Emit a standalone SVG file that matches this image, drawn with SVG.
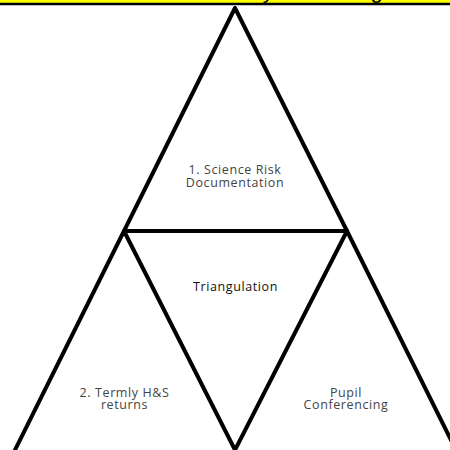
<svg xmlns="http://www.w3.org/2000/svg" width="450" height="450" viewBox="0 0 450 450">
<style>
.ln{stroke:#000;stroke-width:4;fill:none;stroke-linecap:round;stroke-linejoin:round}
.lbl{font-family:"Open Sans","Liberation Sans",sans-serif;font-size:12.5px;letter-spacing:0.6px;fill:#444;text-anchor:middle}
.ctr{font-family:"Open Sans","Liberation Sans",sans-serif;font-size:12.5px;letter-spacing:0.6px;fill:#111;text-anchor:middle}
.ttl{font-family:"Liberation Sans",Arial,sans-serif;font-size:22px;fill:#000}
</style>
<rect width="450" height="450" fill="#fff"/>
<g id="banner">
<rect x="-5" y="-40" width="460" height="44" fill="#ffff00" stroke="#000" stroke-width="2.5"/>
<text class="ttl" x="121" y="-2">Health &amp; Safety Monitoring</text>
</g>
<g id="connectors">
<polyline class="ln" points="235,8 124,231 347,231 235,8"/>
<line class="ln" x1="124" y1="231" x2="14" y2="452"/>
<line class="ln" x1="124" y1="231" x2="235" y2="450"/>
<line class="ln" x1="347" y1="231" x2="235" y2="450"/>
<line class="ln" x1="347" y1="231" x2="457" y2="452"/>
</g>
<g id="node-science">
<text class="lbl" x="235" y="174">1. Science Risk</text>
<text class="lbl" x="235" y="187">Documentation</text>
</g>
<g id="node-triangulation">
<text class="ctr" x="235.5" y="291">Triangulation</text>
</g>
<g id="node-termly">
<text class="lbl" x="124.5" y="397">2. Termly H&amp;S</text>
<text class="lbl" x="124.5" y="409">returns</text>
</g>
<g id="node-pupil">
<text class="lbl" x="346" y="397">Pupil</text>
<text class="lbl" x="346" y="409">Conferencing</text>
</g>
</svg>
